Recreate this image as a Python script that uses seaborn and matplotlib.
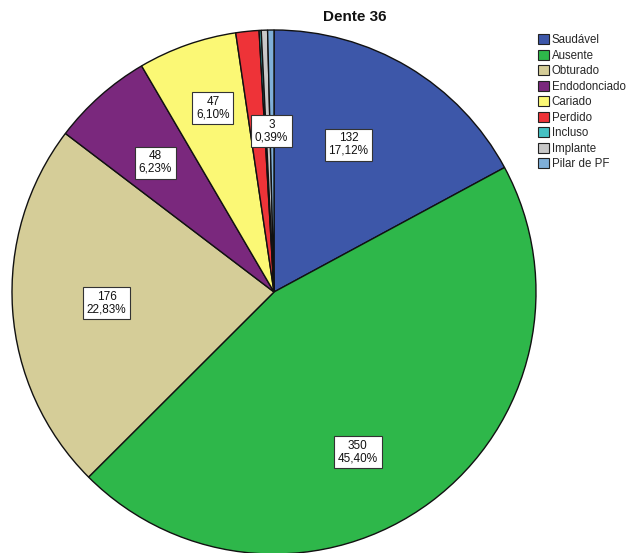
import numpy as np
import matplotlib
matplotlib.use("Agg")
import matplotlib.pyplot as plt
import seaborn as sns
from matplotlib.patches import Patch

# Tooth 36 condition counts
categories = ["Saudável", "Ausente", "Obturado", "Endodonciado", "Cariado",
              "Perdido", "Incluso", "Implante", "Pilar de PF"]
counts = [132, 350, 176, 48, 47, 11, 1, 3, 3]
labelled = ["Saudável", "Ausente", "Obturado", "Endodonciado", "Cariado", "Pilar de PF"]

colors = ["#3D57A9", "#2EB74A", "#D5CD98", "#7A287D", "#FBF875",
          "#EE3338", "#45C1C3", "#C8C8C8", "#7FAFD8"]

sns.set_theme(style="white")
plt.rcParams["font.family"] = ["Liberation Sans", "DejaVu Sans"]

W, H = 631, 553
fig = plt.figure(figsize=(W / 100, H / 100), dpi=100)

cx, cy, R = 274, 292, 262
ax = fig.add_axes([(cx - R) / W, (H - cy - R) / H, 2 * R / W, 2 * R / H])

# clockwise from 12 o'clock
wedges, _ = ax.pie(counts, colors=colors, startangle=90, counterclock=False,
                   radius=1.0,
                   wedgeprops=dict(edgecolor="#111111", linewidth=1.0))
for w in wedges:
    w.set_clip_on(False)
ax.set_xlim(-1, 1)
ax.set_ylim(-1, 1)
ax.set_aspect("equal")
ax.axis("off")

total = sum(counts)
# label placement: (radius fraction, angular shift in degrees, clockwise)
placement = {
    "Saudável": (0.63, -4),
    "Ausente": (0.69, 9),
    "Obturado": (0.64, 0),
    "Endodonciado": (0.67, -1),
    "Cariado": (0.74, 1),
    "Pilar de PF": (0.615, -0.2),
}
cum = 0
for cat, val in zip(categories, counts):
    start = cum / total * 360
    cum += val
    end = cum / total * 360
    if cat not in labelled:
        continue
    r, shift = placement[cat]
    ang = np.deg2rad((start + end) / 2 + shift)
    x, y = r * np.sin(ang), r * np.cos(ang)
    pct = f"{val / total * 100:.2f}".replace(".", ",")
    ax.text(x, y, f"{val}\n{pct}%", ha="center", va="center", fontsize=8.5,
            linespacing=1.05, color="#111111",
            bbox=dict(boxstyle="square,pad=0.32", facecolor="white",
                      edgecolor="#333333", linewidth=0.8))

fig.text(355 / W, 1 - 17 / H, "Dente 36", ha="center", va="center",
         fontsize=11, fontweight="bold", color="#111111")

handles = [Patch(facecolor=c, edgecolor="#222222", linewidth=0.8) for c in colors]
fig.legend(handles, categories, loc="upper left",
           bbox_to_anchor=(536 / W, 1 - 32 / H), frameon=False,
           fontsize=8.3, handlelength=0.95, handleheight=0.95,
           handletextpad=0.2, labelspacing=0.3, borderaxespad=0,
           borderpad=0.2)

fig.savefig("out.png", dpi=100, facecolor="white")
